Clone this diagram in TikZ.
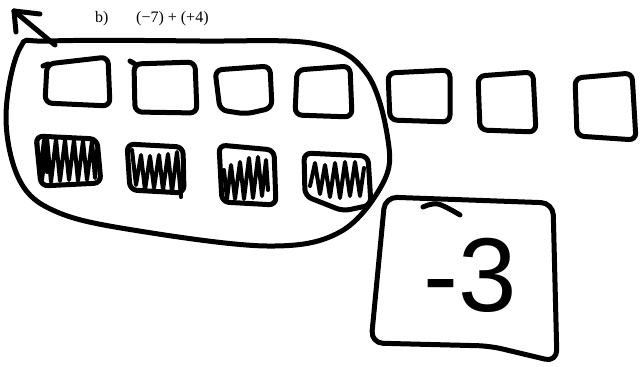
\documentclass[tikz,border=0pt]{standalone}
\usepackage{fontspec}
\setmainfont{Liberation Serif}
\newfontfamily\handfont{Liberation Sans}
\begin{document}
\begin{tikzpicture}[x=1pt,y=-1pt,
  sk/.style={line width=5pt,line cap=round,line join=round,black},
  box/.style={sk,rounded corners=7pt},
  hatch/.style={sk,line width=4pt},
  lbl/.style={font=\fontsize{16}{18}\selectfont,inner sep=0pt,anchor=base west}]
\useasboundingbox (0,0) rectangle (643,367);
% label
\node[lbl] (lb) at (95,22) {b)};
\node[lbl] (le) at (136,22) {(−7) + (+4)};
% arrow
\coordinate (at) at (14,11);
\coordinate (as) at (55,45);
\draw[sk] (as) -- (at);
\draw[sk] (at) -- (40,14);
\draw[sk] (at) -- (16,32);
% big oval
\draw[sk] plot[smooth cycle,tension=0.6] coordinates{(50,41) (200,41) (317,44) (367,74) (388,140) (383,183) (340,232) (267,246) (133,230) (57,212) (20,181) (6,117) (20,48)};
% top row boxes
\draw[box] (47,64) -- (108,57) -- (110,106) -- (45,103) -- cycle;
\draw[sk] (43,66) -- (48,64);
\draw[box] (134,64) -- (195,62) -- (197,113) -- (135,112) -- cycle;
\draw[sk] (130,61) -- (135,64);
\draw[box] (215,70) -- (270,66) -- (272,108) -- (246,114) -- (220,110) -- cycle;
\draw[box] (297,70) -- (350,66) -- (352,117) -- (295,115) -- cycle;
\draw[box] (388,73) -- (450,70) -- (450,122) -- (390,120) -- cycle;
\draw[box] (478,76) -- (533,72) -- (536,132) -- (480,130) -- cycle;
\draw[box] (575,78) -- (632,73) -- (636,140) -- (577,136) -- cycle;
% hatched boxes
\draw[box] (36,136) -- (97,139) -- (101,183) -- (41,186) -- cycle;
\draw[hatch] (38,150) -- (42,180) -- (47,138) -- (51,182) -- (56,139) -- (60,181) -- (65,140) -- (69,180) -- (74,140) -- (78,181) -- (83,141) -- (87,180) -- (92,141) -- (95,178) -- (97,150);
\draw[hatch] (37,140) -- (40,175) -- (44,140) -- (47,172);
\draw[box] (127,144) -- (183,147) -- (184,193) -- (130,190) -- cycle;
\draw[hatch] (132,150) -- (136,185) -- (141,155) -- (145,190) -- (150,156) -- (154,188) -- (159,155) -- (163,190) -- (168,154) -- (172,192) -- (177,152) -- (181,197);
\draw[box] (219,145) -- (274,150) -- (276,205) -- (222,202) -- cycle;
\draw[hatch] (224,170) -- (227,199) -- (231,165) -- (235,199) -- (240,162) -- (244,199) -- (249,158) -- (253,198) -- (258,157) -- (262,196) -- (266,160) -- (268,190);
\draw[box] (304,153) -- (368,156) -- (371,205) -- (343,211) -- (305,196) -- cycle;
\draw[hatch] (310,186) -- (315,163) -- (320,194) -- (325,165) -- (330,197) -- (335,163) -- (340,198) -- (345,162) -- (350,196) -- (355,162) -- (360,196) -- (364,168);
% answer box
\draw[sk,rounded corners=12pt] (385,197) -- (553,203) -- (557,362) -- (490,346) -- (371,343) -- cycle;
\draw[sk] plot[smooth,tension=0.6] coordinates{(423,207) (438,204) (460,215)};
\node[font=\handfont\fontsize{105}{110}\selectfont,inner sep=0pt] (ans) at (470,275) {-3};
\end{tikzpicture}
\end{document}
